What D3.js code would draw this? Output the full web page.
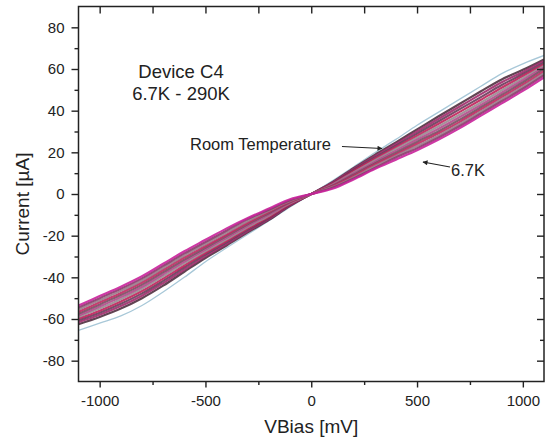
<!DOCTYPE html>
<html>
<head>
<meta charset="utf-8">
<script src="https://cdn.jsdelivr.net/npm/d3@7"></script>
<style>
  html, body { margin: 0; padding: 0; background: #fff; }
  svg { display: block; font-family: "Liberation Sans", Arial, sans-serif; }
</style>
</head>
<body>
<svg id="chart" width="548" height="441"></svg>
<script>
// ---------------- data ----------------
const vbias = [-1100,-1000,-900,-800,-700,-600,-500,-400,-300,-200,-100,0,100,200,300,400,500,600,700,800,900,1000,1100];

const i_6_7K = [-53.5,-49,-44.5,-39.5,-33.5,-27.5,-22,-16.5,-11.5,-7,-2.5,0,2.5,7,12,16.5,21,26,31.5,37.5,43.5,49.5,56];
const i_20K  = [-54.5,-50,-45.5,-40.5,-34.5,-28.5,-23,-17.5,-12,-7.5,-3,0,3,7.5,12.5,17.5,22,27,32.5,38.5,44.5,50.5,57];
const i_40K  = [-55.5,-51,-46.5,-41.5,-35.5,-29.5,-24,-18.5,-13,-8,-3.3,0,3.3,8,13.3,18.3,23,28,33.5,39.5,45.5,51.5,58];
const i_60K  = [-56.5,-52,-47.5,-42.5,-36.5,-30.5,-25,-19.5,-13.8,-8.6,-3.6,0,3.6,8.6,14,19,24,29,34.5,40.5,46.5,52.5,59];
const i_80K  = [-57.5,-53,-48.5,-43.5,-37.5,-31.5,-25.8,-20.2,-14.5,-9.2,-3.9,0,3.9,9.2,14.7,19.8,25,30,35.6,41.5,47.5,53.5,60];
const i_100K = [-58.3,-54,-49.5,-44.5,-38.5,-32.4,-26.6,-21,-15.2,-9.8,-4.2,0,4.2,9.8,15.4,20.7,26,31.2,36.8,42.6,48.6,54.6,60.8];
const i_130K = [-59,-55,-50.5,-45.5,-39.5,-33.3,-27.4,-21.8,-15.9,-10.4,-4.5,0,4.5,10.4,16.1,21.6,27,32.4,38,43.8,49.8,55.6,61.5];
const i_160K = [-59.8,-56,-51.6,-46.6,-40.6,-34.3,-28.2,-22.5,-16.5,-11,-4.8,0,4.8,11,16.8,22.4,28,33.6,39.3,45.1,51,56.6,62.2];
const i_200K = [-60.6,-57,-52.7,-47.7,-41.7,-35.3,-29,-23.2,-17.2,-11.5,-5.1,0,5.1,11.5,17.5,23.2,29,34.8,40.6,46.4,52.3,57.6,63];
const i_240K = [-61.5,-58,-53.8,-48.8,-42.8,-36.3,-29.8,-24,-17.8,-12,-5.4,0,5.4,12,18.2,24,30,36,41.9,47.8,53.6,58.6,63.8];
const i_270K = [-62.5,-59,-55,-50,-44,-37.3,-30.7,-24.7,-18.4,-12.4,-5.7,0,5.7,12.4,18.8,24.8,31,37.2,43.2,49.2,55,59.6,64.6];
const i_290K = [-65.5,-62,-58.5,-53.5,-47,-40,-32.5,-25.8,-19.3,-12.8,-6.2,0,6.3,13,19.8,26.2,33,39.2,45.4,51.6,57.8,62.5,66.5];

const seriesNames  = ["6.7K","20K","40K","60K","80K","100K","130K","160K","200K","240K","270K","290K"];
const seriesValues = [i_6_7K,i_20K,i_40K,i_60K,i_80K,i_100K,i_130K,i_160K,i_200K,i_240K,i_270K,i_290K];
const seriesColors = ["#c8249a","#8a3a6a","#9a7a8a","#c02860","#7a4a60","#b04a8a","#9a8a90","#c0205a","#6a3a5a","#a02a6a","#503040","#a8c8d8"];

const xMajorTicks = [-1000,-500,0,500,1000];
const xMinorTicks = [-750,-250,250,750];
const yMajorTicks = [-80,-60,-40,-20,0,20,40,60,80];
const yMinorTicks = [-70,-50,-30,-10,10,30,50,70];

// ---------------- layout ----------------
const svg = d3.select("#chart");
const x = d3.scaleLinear().domain([-1100,1100]).range([78.5,544]);
const y = d3.scaleLinear().domain([-90,90]).range([381.5,6.5]);
const ink = "#222";
const fmt = d => String(d);

const clipId = "plotclip";
svg.append("clipPath").attr("id", clipId).append("rect")
  .attr("x", x.range()[0]).attr("y", y.range()[1])
  .attr("width", x.range()[1]-x.range()[0]).attr("height", y.range()[0]-y.range()[1]);

const line = d3.line()
  .x((d,i) => x(vbias[i]))
  .y(d => y(d))
  .curve(d3.curveCatmullRom);

const gCurves = svg.append("g").attr("clip-path", `url(#${clipId})`);
const order = [11,10,9,8,7,6,5,4,3,2,1,0];
gCurves.selectAll("path")
  .data(order)
  .join("path")
  .attr("d", k => line(seriesValues[k]))
  .attr("fill", "none")
  .attr("stroke", k => seriesColors[k])
  .attr("stroke-width", k => k === 11 ? 1.3 : 2.2)
  .attr("stroke-opacity", k => k === 11 ? 1 : 0.9);

function styleAxis(g) {
  g.selectAll(".domain").remove();
  g.selectAll("line").attr("stroke", ink).attr("stroke-width", 1.4);
  g.selectAll("text").attr("fill", ink).attr("font-size", "15px")
    .attr("font-family", "'Liberation Sans', Arial, sans-serif");
}
const yB = y.range()[0], yT = y.range()[1], xL = x.range()[0], xR = x.range()[1];

svg.append("g").attr("transform", `translate(0,${yB})`)
  .call(d3.axisBottom(x).tickValues(xMajorTicks).tickSize(6).tickPadding(8).tickFormat(fmt))
  .call(styleAxis);
svg.append("g").attr("transform", `translate(0,${yB})`)
  .call(d3.axisBottom(x).tickValues(xMinorTicks).tickSize(3.5).tickFormat(""))
  .call(styleAxis);
svg.append("g").attr("transform", `translate(0,${yT})`)
  .call(d3.axisBottom(x).tickValues(xMajorTicks.concat(xMinorTicks)).tickSize(7).tickFormat(""))
  .call(styleAxis);

svg.append("g").attr("transform", `translate(${xL},0)`)
  .call(d3.axisLeft(y).tickValues(yMajorTicks).tickSize(7).tickPadding(7).tickFormat(fmt))
  .call(styleAxis);
svg.append("g").attr("transform", `translate(${xL},0)`)
  .call(d3.axisLeft(y).tickValues(yMinorTicks).tickSize(4).tickFormat(""))
  .call(styleAxis);
svg.append("g").attr("transform", `translate(${xR},0)`)
  .call(d3.axisRight(y).tickValues(yMajorTicks).tickSize(-7).tickFormat(""))
  .call(styleAxis);
svg.append("g").attr("transform", `translate(${xR},0)`)
  .call(d3.axisRight(y).tickValues(yMinorTicks).tickSize(-4).tickFormat(""))
  .call(styleAxis);

svg.append("rect")
  .attr("x", xL).attr("y", yT).attr("width", xR-xL).attr("height", yB-yT)
  .attr("fill", "none").attr("stroke", ink).attr("stroke-width", 1.5);

svg.append("text")
  .attr("x", (xL+xR)/2).attr("y", 433)
  .attr("text-anchor", "middle").attr("font-size", "19px").attr("fill", ink)
  .text("VBias [mV]");
svg.append("text")
  .attr("transform", "translate(29,204) rotate(-90)")
  .attr("text-anchor", "middle").attr("font-size", "19px").attr("fill", ink)
  .text("Current [\u00b5A]");

svg.append("text").attr("x", 181).attr("y", 78).attr("text-anchor", "middle")
  .attr("font-size", "18.5px").attr("fill", ink).text("Device C4");
svg.append("text").attr("x", 181).attr("y", 100).attr("text-anchor", "middle")
  .attr("font-size", "18.5px").attr("fill", ink).text("6.7K - 290K");

svg.append("text").attr("x", 190).attr("y", 150)
  .attr("font-size", "16.5px").attr("fill", ink).text("Room Temperature");
svg.append("text").attr("x", 451).attr("y", 176)
  .attr("font-size", "16.5px").attr("fill", ink).text("6.7K");

const defs = svg.append("defs");
defs.append("marker").attr("id", "ah").attr("viewBox", "0 0 10 10")
  .attr("refX", 9).attr("refY", 5).attr("markerWidth", 7).attr("markerHeight", 5)
  .attr("orient", "auto-start-reverse").attr("markerUnits", "userSpaceOnUse")
  .append("path").attr("d", "M0,0 L10,5 L0,10 z").attr("fill", ink);

svg.append("line").attr("x1", 342).attr("y1", 146.5).attr("x2", 382).attr("y2", 148.5)
  .attr("stroke", ink).attr("stroke-width", 1.2).attr("marker-end", "url(#ah)");
svg.append("line").attr("x1", 450).attr("y1", 167).attr("x2", 423).attr("y2", 162)
  .attr("stroke", ink).attr("stroke-width", 1.2).attr("marker-end", "url(#ah)");
</script>
</body>
</html>
